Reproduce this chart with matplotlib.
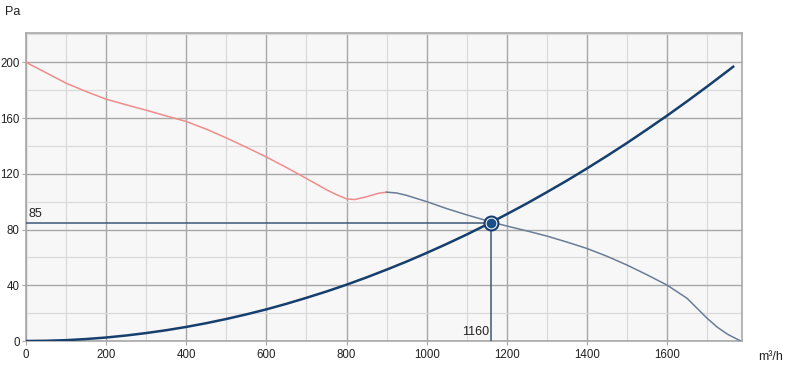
import numpy as np
import matplotlib
matplotlib.use('Agg')
import matplotlib.pyplot as plt
from matplotlib.ticker import MultipleLocator

plt.rcParams['font.family'] = ['Liberation Sans', 'DejaVu Sans']

# fan curve (flow m3/h, pressure Pa) - red part up to the hump, grey after
fan_q_red = [0, 50, 100, 150, 200, 250, 300, 350, 400, 450, 500, 550, 600, 650,
             700, 750, 775, 800, 820, 850, 880, 900]
fan_p_red = [200, 192.5, 185, 179, 173.5, 169.5, 165.6, 161.5, 157.5, 152, 145.7,
             139, 132, 124.5, 116.6, 108.5, 105, 102, 101.5, 103.5, 106, 106.8]
fan_q_grey = [900, 925, 950, 1000, 1050, 1100, 1160, 1200, 1250, 1300, 1350, 1400,
              1450, 1500, 1550, 1600, 1650, 1700, 1725, 1750, 1770, 1782]
fan_p_grey = [106.8, 106.2, 104.5, 100, 95, 90.5, 85.5, 82.5, 79, 75.3, 71, 66.4,
              60.8, 54.5, 47.5, 40.1, 30.6, 16.3, 10, 5, 2, 0.3]

# system curve
sys_q = [0, 50, 100, 150, 200, 250, 300, 350, 400, 450, 500, 550, 600, 650, 700,
         750, 800, 850, 900, 950, 1000, 1050, 1100, 1150, 1160, 1200, 1250, 1300,
         1350, 1400, 1450, 1500, 1550, 1600, 1650, 1700, 1750, 1765]
sys_p = [0, 0.16, 0.6, 1.42, 2.5, 3.95, 5.7, 7.74, 10.1, 12.79, 15.8, 19.11, 22.7,
         26.69, 31.0, 35.53, 40.4, 45.64, 51.2, 57.01, 63.2, 69.64, 76.4, 83.54, 85,
         91.0, 98.7, 106.8, 115.1, 123.8, 132.8, 142.1, 151.8, 161.7, 172.0, 182.6,
         193.5, 196.8]

op_q, op_p = 1160, 85

fig = plt.figure(figsize=(7.87, 3.75), dpi=100)
ax = fig.add_axes([26/787, 34/375, 716/787, 308/375])
ax.set_facecolor('#f7f7f7')

ax.set_xlim(0, 1787)
ax.set_ylim(0, 221)
ax.xaxis.set_major_locator(MultipleLocator(200))
ax.xaxis.set_minor_locator(MultipleLocator(100))
ax.yaxis.set_major_locator(MultipleLocator(40))
ax.yaxis.set_minor_locator(MultipleLocator(20))
ax.grid(which='major', color='#a8a8a8', lw=1.0)
ax.grid(which='minor', color='#dadada', lw=0.9)
ax.set_axisbelow(True)
for s in ax.spines.values():
    s.set_color('#a8a8a8')
    s.set_linewidth(1.2)

ax.tick_params(which='major', length=3, color='#a8a8a8', labelsize=8.3, pad=1.5, labelcolor='#222222')
ax.tick_params(axis='x', pad=3)
ax.tick_params(which='minor', length=0)

ax.plot(fan_q_red, fan_p_red, color='#f08c8c', lw=1.1, zorder=3)
ax.plot(fan_q_grey, fan_p_grey, color='#6a7d96', lw=1.1, zorder=3)
ax.plot(sys_q, sys_p, color='#163f6e', lw=1.8, zorder=4)

ax.plot([0, op_q], [op_p, op_p], color='#3d5878', lw=1.1, zorder=3)
ax.plot([op_q, op_q], [0, op_p], color='#3d5878', lw=1.1, zorder=3)
ax.plot([op_q], [op_p], 'o', ms=10, mfc='white', mec='#163f6e', mew=1.5, zorder=5)
ax.plot([op_q], [op_p], 'o', ms=6, mfc='#1a4f8a', mec='#1a4f8a', zorder=6)

ax.text(5, op_p + 2, str(op_p), fontsize=9, color='#222222', va='bottom', ha='left')
ax.text(op_q - 5, 2, str(op_q), fontsize=9, color='#222222', va='bottom', ha='right')

fig.text(5/787, 1 - 12/375, 'Pa', fontsize=9, color='#222222', va='center', ha='left')
fig.text(758/787, 1 - 357/375, 'm³/h', fontsize=9, color='#222222', va='center', ha='left')

fig.savefig('out.png', dpi=100)
